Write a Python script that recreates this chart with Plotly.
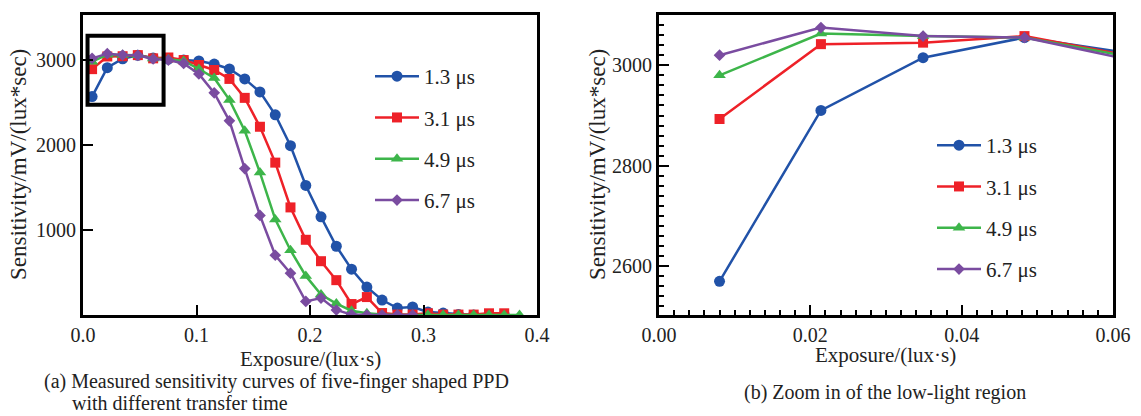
import plotly.graph_objects as go

# ---------------- data ----------------
exposure = [0.0080, 0.0214, 0.0349, 0.0483, 0.0618, 0.0752, 0.0887, 0.1021, 0.1156, 0.1290,
            0.1425, 0.1559, 0.1694, 0.1828, 0.1963, 0.2097, 0.2232, 0.2366, 0.2501, 0.2635,
            0.2770, 0.2904, 0.3039, 0.3173, 0.3308, 0.3442, 0.3577, 0.3711, 0.3846]

sens_1_3 = [2570, 2910, 3015, 3055, 3025, 3012, 3000, 2989, 2953, 2895,
            2778, 2625, 2356, 1992, 1524, 1155, 809, 539, 328, 176,
            82, 94, 35, 23, 5, 0, 5, 5]
sens_3_1 = [2893, 3042, 3045, 3058, 3020, 3030, 3000, 2942, 2883, 2778,
            2555, 2215, 1793, 1266, 885, 633, 410, 129, 211, 23,
            5, 5, 20, 5, 5, 5, 20, 20]
sens_4_9 = [2980, 3063, 3058, 3055, 3018, 3010, 2990, 2895, 2789, 2531,
            2168, 1676, 1125, 762, 460, 240, 135, 50, 20, 5,
            0, 0, 0, 0, 0, 0, 0, 0, 0]
sens_6_7 = [3020, 3075, 3058, 3055, 3012, 3000, 2960, 2836, 2614, 2285,
            1723, 1172, 703, 492, 160, 199, 59, 5, 0, 0,
            0, 0]

series_names = ["1.3 μs", "3.1 μs", "4.9 μs", "6.7 μs"]
series_values = [sens_1_3, sens_3_1, sens_4_9, sens_6_7]
series_colors = ["#2152a8", "#ee2128", "#3db54a", "#7a4ca0"]
series_symbols = ["circle", "square", "triangle-up", "diamond"]
series_sizes = [11, 10, 11, 9]

zoom_box = dict(x0=0.004, x1=0.071, y0=2475, y1=3285)

FONT = "Liberation Serif"
TXT = "#222"

fig = go.Figure()

for i, (name, vals) in enumerate(zip(series_names, series_values)):
    for ax, leg in (("1", "legend"), ("2", "legend2")):
        fig.add_trace(go.Scatter(
            x=exposure[:len(vals)], y=vals, name=name, mode="lines+markers",
            line=dict(color=series_colors[i], width=2.5),
            marker=dict(symbol=series_symbols[i], size=series_sizes[i], color=series_colors[i]),
            xaxis="x" if ax == "1" else "x2", yaxis="y" if ax == "1" else "y2",
            legend=leg, legendgroup=f"{leg}_{i}",
        ))

W, H = 1141, 416
def px(xp):
    return xp / W
def py(yp):
    return 1 - yp / H

axis_common = dict(showline=True, linewidth=3, linecolor="black", mirror=True,
                   ticks="inside", tickwidth=2, ticklen=10, tickcolor="black",
                   showgrid=False, zeroline=False, automargin=False,
                   tickfont=dict(family=FONT, size=20, color=TXT))

fig.update_layout(
    width=W, height=H, margin=dict(l=0, r=0, t=0, b=0),
    paper_bgcolor="white", plot_bgcolor="white",
    font=dict(family=FONT, size=20, color=TXT),
    xaxis=dict(domain=[px(83), px(537)], range=[0, 0.4], tickvals=[0, 0.1, 0.2, 0.3, 0.4],
               tickformat=".1f", anchor="y", **axis_common),
    yaxis=dict(domain=[py(315), py(15)], range=[0, 3530], tickvals=[1000, 2000, 3000],
               anchor="x", **axis_common),
    xaxis2=dict(domain=[px(659), px(1113)], range=[0, 0.06], dtick=0.02, tickformat=".2f",
                anchor="y2", minor=dict(dtick=0.002, ticks="inside", ticklen=5, tickwidth=2, tickcolor="black"),
                **axis_common),
    yaxis2=dict(domain=[py(315), py(15)], range=[2503, 3100], dtick=200,
                anchor="x2", minor=dict(dtick=20, ticks="inside", ticklen=5, tickwidth=2, tickcolor="black"),
                **axis_common),
    legend=dict(x=px(370), y=py(56), xanchor="left", yanchor="top", bgcolor="rgba(0,0,0,0)",
                tracegroupgap=11, itemwidth=44, font=dict(family=FONT, size=21, color=TXT)),
    legend2=dict(x=px(932), y=py(125), xanchor="left", yanchor="top", bgcolor="rgba(0,0,0,0)",
                 tracegroupgap=11, itemwidth=44, font=dict(family=FONT, size=21, color=TXT)),
    showlegend=True,
)

fig.add_shape(type="rect", xref="x", yref="y", line=dict(color="black", width=4),
              fillcolor="rgba(0,0,0,0)", **zoom_box)

ann = [
    dict(text="Sensitivity/mV/(lux*sec)", x=px(18), y=py(165), textangle=-90, size=23, xa="center"),
    dict(text="Sensitivity/mV/(lux*sec)", x=px(597), y=py(165), textangle=-90, size=23, xa="center"),
    dict(text="Exposure/(lux·s)", x=px(310), y=py(359), textangle=0, size=21, xa="center"),
    dict(text="Exposure/(lux·s)", x=px(885), y=py(355), textangle=0, size=21, xa="center"),
    dict(text="(b) Zoom in of the low-light region", x=px(885), y=py(392), textangle=0, size=20, xa="center"),
    dict(text="(a) Measured sensitivity curves of five-finger shaped PPD", x=px(42), y=py(381), textangle=0, size=20, xa="left"),
    dict(text="with different transfer time", x=px(70), y=py(403), textangle=0, size=20, xa="left"),
]
for a in ann:
    fig.add_annotation(text=a["text"], x=a["x"], y=a["y"], xref="paper", yref="paper",
                       textangle=a["textangle"], showarrow=False, xanchor=a["xa"], yanchor="middle",
                       font=dict(family=FONT, size=a["size"], color=TXT))

fig.write_html("out.html")
